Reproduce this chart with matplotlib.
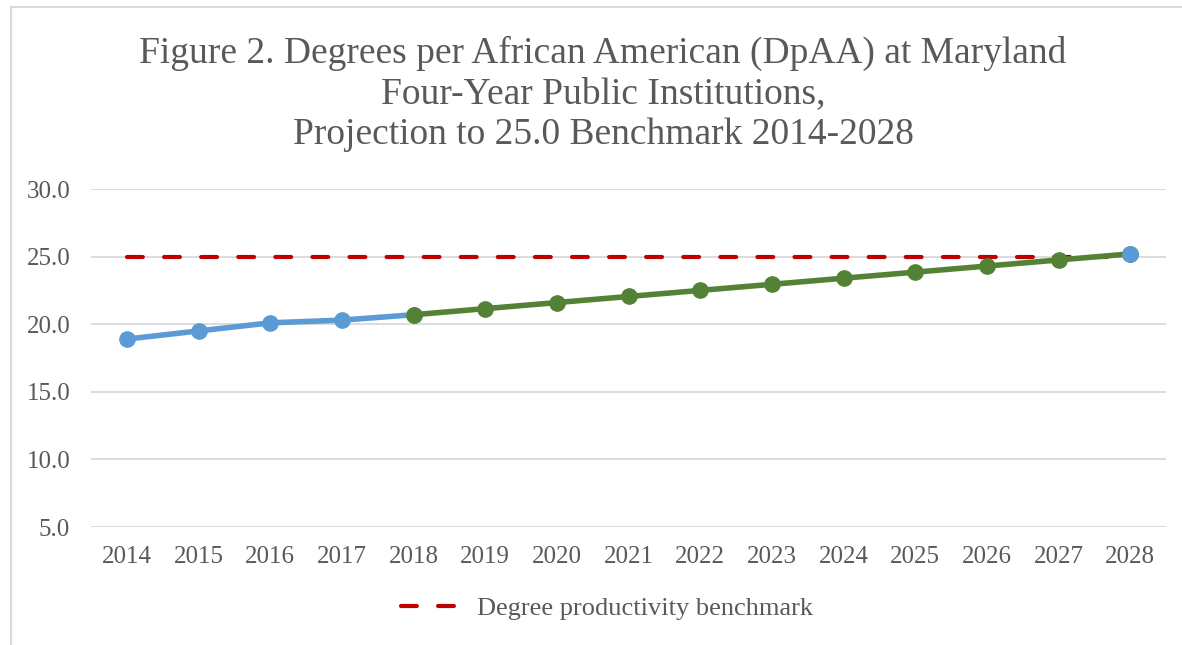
#!/usr/bin/env python3
"""Degrees per African American at Maryland four-year public institutions."""

import matplotlib
matplotlib.use("Agg")
import matplotlib.pyplot as plt
from matplotlib.lines import Line2D

years = list(range(2014, 2029))
actual_years = [2014, 2015, 2016, 2017, 2018]
actual_dpaa = [18.9, 19.5, 20.1, 20.3, 20.7]
proj_years = [2018, 2019, 2020, 2021, 2022, 2023, 2024, 2025, 2026, 2027, 2028]
proj_dpaa = [20.7, 21.15, 21.6, 22.05, 22.5, 22.95, 23.4, 23.85, 24.3, 24.75, 25.2]
target_year = [2028]
target_dpaa = [25.2]
benchmark = [25.0] * len(years)

title = ("Figure 2. Degrees per African American (DpAA) at Maryland\n"
         "Four-Year Public Institutions,\n"
         "Projection to 25.0 Benchmark 2014-2028")

plt.rcParams["font.family"] = ["Liberation Serif", "DejaVu Serif"]
GRAY = "#595959"
BLUE = "#5b9bd5"
GREEN = "#548235"
RED = "#c00000"

W, H = 1182, 645
fig = plt.figure(figsize=(W / 100, H / 100), dpi=100)
ax = fig.add_axes([91 / W, 1 - 527 / H, (1166 - 91) / W, (527 - 189) / H])

ax.plot(years, benchmark, color=RED, lw=3, dashes=(3.8, 5.1),
        dash_capstyle="round", label="Degree productivity benchmark", zorder=3)
ax.plot(actual_years, actual_dpaa, color=BLUE, lw=4, marker="o", ms=11,
        zorder=4)
ax.plot(proj_years, proj_dpaa, color=GREEN, lw=4, marker="o", ms=11,
        zorder=4)
ax.plot(target_year, target_dpaa, color=BLUE, lw=0, marker="o", ms=11,
        zorder=5)

ax.set_xlim(2013.5, 2028.5)
ax.set_ylim(5, 30)
ax.set_xticks(years)
ax.set_yticks([5, 10, 15, 20, 25, 30])
ax.set_yticklabels([f"{v:.1f}" for v in [5, 10, 15, 20, 25, 30]])
ax.tick_params(axis="both", length=0, labelsize=18, colors=GRAY)
ax.tick_params(axis="x", pad=14)
ax.tick_params(axis="y", pad=15)
ax.grid(axis="y", color="#d9d9d9", lw=1.3)
ax.set_axisbelow(True)
for spine in ax.spines.values():
    spine.set_visible(False)

fig.text(603 / W, 1 - 94 / H, title, ha="center", va="center",
         fontsize=27, color=GRAY, linespacing=1.22)

handles, labels = ax.get_legend_handles_labels()
fig.legend(handles, labels, loc="center", bbox_to_anchor=(607 / W, 1 - 608 / H),
           frameon=False, fontsize=19, labelcolor=GRAY, handlelength=2.1,
           handletextpad=0.75)

fig.add_artist(Line2D([10.5 / W, 10.5 / W], [0, 1 - 7 / H], color="#d9d9d9",
                      lw=1.5, transform=fig.transFigure))
fig.add_artist(Line2D([10.5 / W, 1], [1 - 7 / H, 1 - 7 / H], color="#d9d9d9",
                      lw=1.5, transform=fig.transFigure))

fig.savefig("out.png", dpi=100)
